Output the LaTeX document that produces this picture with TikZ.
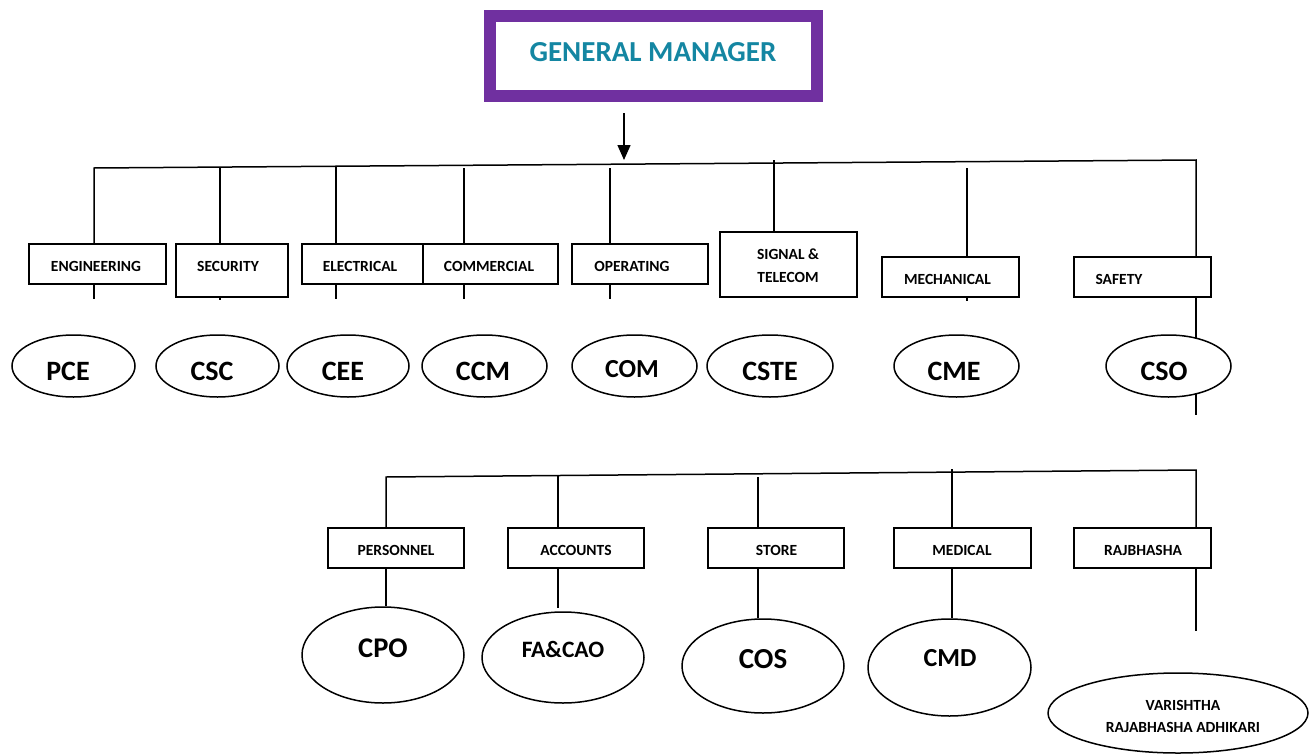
\documentclass[tikz,border=0pt]{standalone}
\usepackage{fontspec}
\setmainfont{Carlito}
\usetikzlibrary{arrows.meta,shapes.geometric,calc}
\definecolor{gmpurple}{RGB}{112,48,160}
\definecolor{gmteal}{RGB}{20,134,162}
\tikzset{
  conn/.style={line width=1.5pt,black},
  box/.style={draw,line width=1.5pt,rectangle,inner sep=0pt,minimum height=40pt},
  off/.style={draw,fill=white,line width=1.5pt,ellipse,inner sep=0pt},
  lbl/.style={inner sep=0pt,font=\fontsize{15.5}{23}\selectfont\bfseries,align=center},
  big/.style={inner sep=0pt,font=\fontsize{28}{32}\selectfont\bfseries},
}
\begin{document}
\begin{tikzpicture}[x=1pt,y=-1pt]
\useasboundingbox (0,0) rectangle (1309,755);
% General manager
\node[draw=gmpurple,line width=12pt,minimum width=327pt,minimum height=80pt,inner sep=0pt] (gm) at (653.5,56) {};
\node[inner sep=0pt,text=gmteal,font=\fontsize{29}{32}\selectfont\bfseries] (gmt) at (653,52) {GENERAL MANAGER};
\coordinate (arrtop) at (624,113);
\coordinate (arrtip) at (624,160);
\draw[conn,-{Triangle[length=15pt,width=13pt]}] (arrtop) -- (arrtip);

% row 1 boxes
\node[box,minimum width=137pt] (eng) at (97.5,264) {};
\node[box,minimum width=112pt,minimum height=53pt] (sec) at (232,270.5) {};
\node[box,minimum width=121pt] (ele) at (362.5,264) {};
\node[box,minimum width=135pt] (com) at (490.5,264) {};
\node[box,minimum width=136pt] (ope) at (640,264) {};
\node[box,minimum width=137pt,minimum height=65pt] (snt) at (788.5,264.5) {};
\node[box,minimum width=137pt] (mec) at (950.5,277) {};
\node[box,minimum width=137pt] (saf) at (1142.5,277) {};
\node[lbl] (engt) at (96,266) {ENGINEERING};
\node[lbl] (sect) at (228,266) {SECURITY};
\node[lbl] (elet) at (360,266) {ELECTRICAL};
\node[lbl] (comt) at (489,266) {COMMERCIAL};
\node[lbl] (opet) at (632,266) {OPERATING};
\node[lbl] (sntt) at (788,265.5) {SIGNAL \&\\TELECOM};
\node[lbl] (mect) at (947.5,279) {MECHANICAL};
\node[lbl] (saft) at (1119,279) {SAFETY};

% bus 1
\coordinate (b1L) at (94,168);
\coordinate (b1R) at (1196,160);
\coordinate (tsec) at (220,167.1);
\coordinate (tele) at (336,166.2);
\coordinate (tcom) at (464,168);
\coordinate (tope) at (610,168);
\coordinate (tsnt) at (774,160);
\coordinate (tmec) at (967,168);
\draw[conn] (b1L |- eng.north) -- (b1L) -- (b1R) -- (b1R |- saf.north);
\draw[conn] (tsec) -- (tsec |- sec.north);
\draw[conn] (tele) -- (tele |- ele.north);
\draw[conn] (tcom) -- (tcom |- com.north);
\draw[conn] (tope) -- (tope |- ope.north);
\draw[conn] (tsnt) -- (tsnt |- snt.north);
\draw[conn] (tmec) -- (tmec |- mec.north);
% stubs under row 1 boxes
\coordinate (seng) at (94,299);
\coordinate (ssec) at (220,300);
\coordinate (sele) at (336,299);
\coordinate (scom) at (464,299);
\coordinate (sope) at (610,299);
\coordinate (smec) at (967,301);
\coordinate (scso) at (1196,415);
\draw[conn] (seng |- eng.south) -- (seng);
\draw[conn] (ssec |- sec.south) -- (ssec);
\draw[conn] (sele |- ele.south) -- (sele);
\draw[conn] (scom |- com.south) -- (scom);
\draw[conn] (sope |- ope.south) -- (sope);
\draw[conn] (smec |- mec.south) -- (smec);
\draw[conn] (scso |- saf.south) -- (scso);

% row 1 ellipses
\node[off,minimum width=123pt,minimum height=62pt] (pce) at (73.5,366) {};
\node[off,minimum width=123pt,minimum height=62pt] (csc) at (217.5,366) {};
\node[off,minimum width=122pt,minimum height=62pt] (cee) at (348,366) {};
\node[off,minimum width=125pt,minimum height=62pt] (ccm) at (484.5,366) {};
\node[off,minimum width=125pt,minimum height=62pt] (como) at (634.5,366) {};
\node[off,minimum width=126pt,minimum height=62pt] (cste) at (770,366) {};
\node[off,minimum width=125pt,minimum height=62pt] (cme) at (956.5,366) {};
\node[off,minimum width=125pt,minimum height=62pt] (cso) at (1168.5,366) {};
\node[big] (pcet) at (68,371) {PCE};
\node[big] (csct) at (212,371) {CSC};
\node[big] (ceet) at (343,371) {CEE};
\node[big] (ccmt) at (483,371) {CCM};
\node[big,font=\fontsize{26}{30}\selectfont\bfseries] (comot) at (632,369) {COM};
\node[big] (cstet) at (770,371) {CSTE};
\node[big] (cmet) at (954,371) {CME};
\node[big] (csot) at (1164,371) {CSO};

% row 2 boxes
\node[box,minimum width=136pt] (per) at (396,548) {};
\node[box,minimum width=136pt] (acc) at (576,548) {};
\node[box,minimum width=136pt] (sto) at (776,548) {};
\node[box,minimum width=137pt] (med) at (962.5,548) {};
\node[box,minimum width=137pt] (raj) at (1142.5,548) {};
\node[lbl] (pert) at (396,550) {PERSONNEL};
\node[lbl] (acct) at (576,550) {ACCOUNTS};
\node[lbl] (stot) at (776.5,550) {STORE};
\node[lbl] (medt) at (962,550) {MEDICAL};
\node[lbl] (rajt) at (1143,550) {RAJBHASHA};

% row 2 ellipses
\node[off,minimum width=162pt,minimum height=96pt] (cpo) at (383,655) {};
\node[off,minimum width=162pt,minimum height=91pt] (fac) at (563,657.5) {};
\node[off,minimum width=162pt,minimum height=94pt] (cos) at (763,666) {};
\node[off,minimum width=163pt,minimum height=97pt] (cmd) at (949.5,667.5) {};
\node[off,minimum width=260pt,minimum height=80pt] (vra) at (1178,713) {};
\node[big,font=\fontsize{28.5}{32}\selectfont\bfseries] (cpot) at (383,648) {CPO};
\node[big,font=\fontsize{23.5}{28}\selectfont\bfseries] (fact) at (563,649) {FA\&CAO};
\node[big,font=\fontsize{29}{32}\selectfont\bfseries] (cost) at (763,659) {COS};
\node[big,font=\fontsize{26}{30}\selectfont\bfseries] (cmdt) at (950,658) {CMD};
\node[lbl,font=\fontsize{15.5}{22}\selectfont\bfseries] (vrat) at (1183,716) {VARISHTHA\\RAJABHASHA ADHIKARI};

% bus 2
\coordinate (b2L) at (386,477);
\coordinate (b2R) at (1196,470);
\coordinate (tacc) at (558,475.5);
\coordinate (tsto) at (758,477);
\coordinate (tmed) at (952,469);
\draw[conn] (b2L |- per.north) -- (b2L) -- (b2R) -- (b2R |- raj.north);
\draw[conn] (tacc) -- (tacc |- acc.north);
\draw[conn] (tsto) -- (tsto |- sto.north);
\draw[conn] (tmed) -- (tmed |- med.north);
% drops to row 2 ellipses
\coordinate (eacc) at (558,608);
\coordinate (eraj) at (1196,631);
\draw[conn] (b2L |- per.south) -- (b2L |- cpo.north);
\draw[conn] (eacc |- acc.south) -- (eacc);
\draw[conn] (tsto |- sto.south) -- (tsto |- cos.north);
\draw[conn] (tmed |- med.south) -- (tmed |- cmd.north);
\draw[conn] (eraj |- raj.south) -- (eraj);
\end{tikzpicture}
\end{document}
